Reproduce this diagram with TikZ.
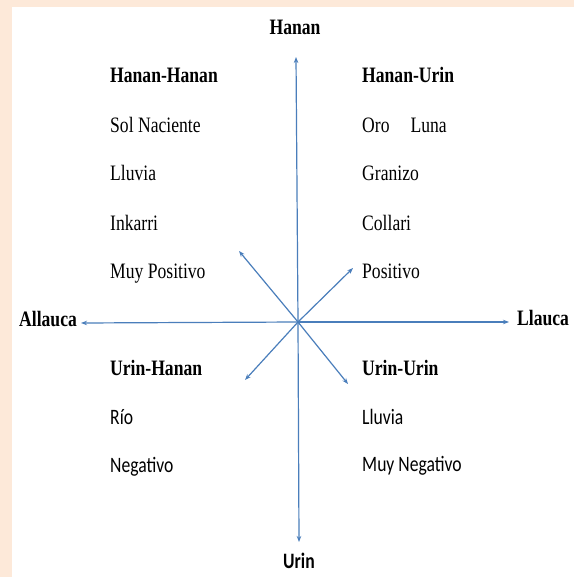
\documentclass[tikz,border=0pt]{standalone}
\usepackage{fontspec}
\setmainfont{Liberation Serif}[FakeStretch=0.8]
\newfontfamily\carlitofont{Carlito}[FakeStretch=0.8]
\usetikzlibrary{arrows.meta}
\definecolor{peach}{HTML}{FDE9D9}
\definecolor{axblue}{HTML}{4A7EBB}
\tikzset{
  lbl/.style={anchor=base west, inner sep=0pt, font=\fontsize{22}{26}\selectfont},
  head/.style={lbl, font=\fontsize{22}{26}\selectfont\bfseries},
  sanslbl/.style={lbl, font=\fontsize{22}{26}\selectfont\carlitofont},
  axislbl/.style={anchor=base, inner sep=0pt, font=\fontsize{22}{26}\selectfont\bfseries},
  sansaxislbl/.style={anchor=base, inner sep=0pt, font=\fontsize{22}{26}\selectfont\carlitofont\bfseries},
  ax/.style={draw=axblue, line width=1.2pt, -{Stealth[length=6pt,width=4.5pt]}}
}
\begin{document}
\begin{tikzpicture}[x=1pt,y=-1pt]
\useasboundingbox (0,0) rectangle (574,577);
\fill[peach] (0,0) rectangle (574,577);
\fill[white] (12,7) rectangle (574,577);
% axis labels
\node[axislbl] (hanan) at (295,35) {Hanan};
\node[sansaxislbl] (urin) at (299,568) {Urin};
\node[head] (allauca) at (19,326) {Allauca};
\node[head] (llauca) at (517,325) {Llauca};
% upper left
\node[head] (hh) at (110,83) {Hanan-Hanan};
\node[lbl] (sol) at (110,133) {Sol Naciente};
\node[lbl] (lluA) at (110,181) {Lluvia};
\node[lbl] (ink) at (110,230) {Inkarri};
\node[lbl] (muyp) at (110,278) {Muy Positivo};
% upper right
\node[head] (hu) at (362,83) {Hanan-Urin};
\node[lbl] (oro) at (362,133) {Oro\hspace{21pt}Luna};
\node[lbl] (gra) at (362,181) {Granizo};
\node[lbl] (col) at (362,230) {Collari};
\node[lbl] (pos) at (362,278) {Positivo};
% lower left
\node[head] (uh) at (110,375) {Urin-Hanan};
\node[sanslbl] (rio) at (110,424) {Río};
\node[sanslbl] (neg) at (110,472) {Negativo};
% lower right
\node[head] (uu) at (362,375) {Urin-Urin};
\node[sanslbl] (lluB) at (362,424) {Lluvia};
\node[sanslbl] (muyn) at (362,471) {Muy Negativo};
% axes
\coordinate (c) at (298,322);
\coordinate (tt) at (296,57);
\coordinate (tb) at (299,542);
\coordinate (tl) at (81,323);
\coordinate (tr) at (509,322);
\coordinate (dul) at (239,251);
\coordinate (dur) at (353,268);
\coordinate (dll) at (245,380);
\coordinate (dlr) at (348,384);
\draw[ax] (c) -- (tt);
\draw[ax] (c) -- (tb);
\draw[ax] (c) -- (tl);
\draw[ax] (c) -- (tr);
\draw[ax] (c) -- (dul);
\draw[ax] (c) -- (dur);
\draw[ax] (c) -- (dll);
\draw[ax] (c) -- (dlr);
\end{tikzpicture}
\end{document}
